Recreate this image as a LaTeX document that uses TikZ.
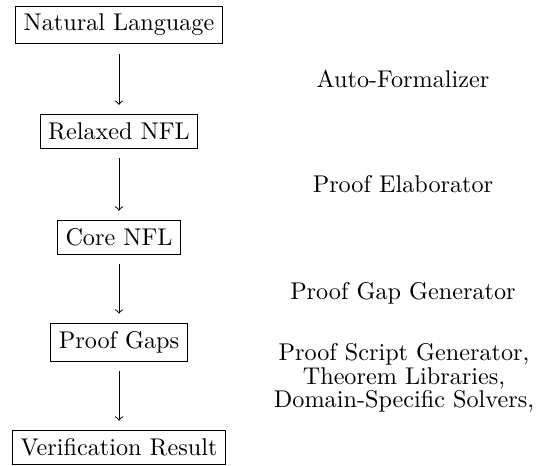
\documentclass[tikz,border=0pt]{standalone}
\begin{document}
\begin{tikzpicture}[x=0.4132pt,y=-0.4132pt,
  stage/.style={draw,inner sep=0.333em},
  tool/.style={align=center,inner sep=0pt},
  flow/.style={->,shorten <=3.8pt,shorten >=3.9pt}]
\useasboundingbox (0,0) rectangle (538,466);
\node[stage] (nl) at (119,25) {Natural Language};
\node[stage] (rn) at (119,131.5) {Relaxed NFL};
\node[stage] (cn) at (119,237.5) {Core NFL};
\node[stage] (pg) at (119,342.5) {Proof Gaps};
\node[stage] (vr) at (119,447.5) {Verification Result};
\draw[flow] (nl) -- (rn);
\draw[flow] (rn) -- (cn);
\draw[flow] (cn) -- (pg);
\draw[flow] (pg) -- (vr);
\node[tool,anchor=base] (af) at (403,87) {Auto-Formalizer};
\node[tool,anchor=base] (pe) at (403,192) {Proof Elaborator};
\node[tool,anchor=base] (pgg) at (403,299) {Proof Gap Generator};
\node[tool,anchor=north] (psg) at (404,343) {Proof Script Generator,\\[-2.3pt] Theorem Libraries,\\[-2.3pt] Domain-Specific Solvers,};
\end{tikzpicture}
\end{document}
